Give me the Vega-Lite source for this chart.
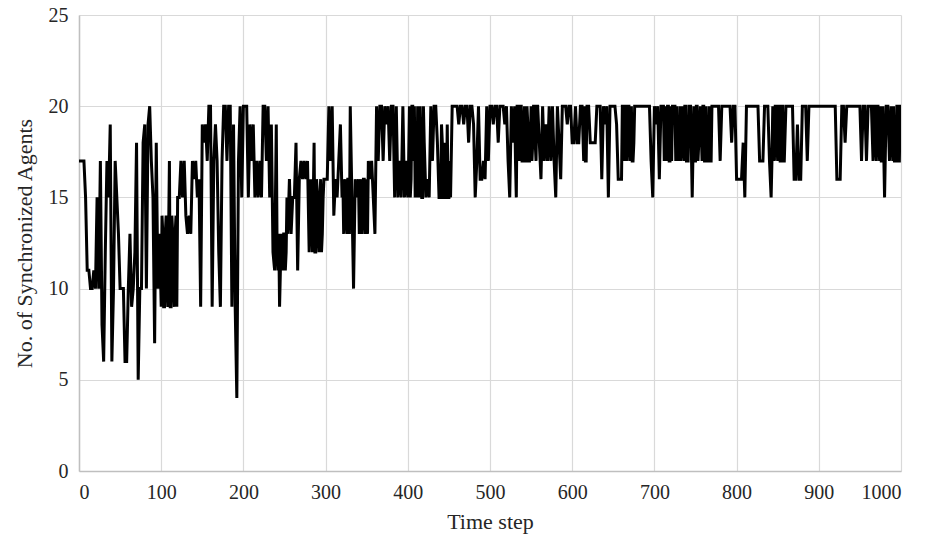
{
"$schema": "https://vega.github.io/schema/vega-lite/v6.json",
"width": 822, "height": 456,
"autosize": {"type": "none"},
"padding": {"left": 79, "top": 15, "right": 26, "bottom": 75},
"background": "white",
"config": {"view": {"stroke": null}, "font": "Liberation Serif"},
"data": {"values": [
{"t":0,"v":17},{"t":2,"v":17},{"t":4,"v":17},{"t":6,"v":17},{"t":8,"v":15},{"t":10,"v":11},{"t":12,"v":11},{"t":14,"v":10},{"t":16,"v":10},{"t":18,"v":11},
{"t":20,"v":10},{"t":22,"v":15},{"t":24,"v":10},{"t":26,"v":17},{"t":28,"v":8},{"t":30,"v":6},{"t":32,"v":12},{"t":34,"v":17},{"t":36,"v":15},{"t":38,"v":19},
{"t":40,"v":6},{"t":42,"v":10},{"t":44,"v":17},{"t":46,"v":15},{"t":48,"v":13},{"t":50,"v":10},{"t":52,"v":10},{"t":54,"v":10},{"t":56,"v":6},{"t":58,"v":6},
{"t":60,"v":10},{"t":62,"v":13},{"t":64,"v":9},{"t":66,"v":10},{"t":68,"v":12},{"t":70,"v":18},{"t":72,"v":5},{"t":74,"v":10},{"t":76,"v":10},{"t":78,"v":18},
{"t":80,"v":19},{"t":82,"v":10},{"t":84,"v":19},{"t":86,"v":20},{"t":88,"v":17},{"t":90,"v":15},{"t":92,"v":7},{"t":94,"v":18},{"t":96,"v":10},{"t":98,"v":13},
{"t":100,"v":9},{"t":102,"v":13},{"t":104,"v":9},{"t":106,"v":14},{"t":108,"v":9},{"t":110,"v":17},{"t":112,"v":9},{"t":114,"v":13},{"t":116,"v":9},{"t":118,"v":14},
{"t":120,"v":15},{"t":122,"v":15},{"t":124,"v":17},{"t":126,"v":15},{"t":128,"v":17},{"t":130,"v":14},{"t":132,"v":13},{"t":134,"v":14},{"t":136,"v":13},{"t":138,"v":17},
{"t":140,"v":16},{"t":142,"v":17},{"t":144,"v":15},{"t":146,"v":16},{"t":148,"v":9},{"t":150,"v":19},{"t":152,"v":18},{"t":154,"v":19},{"t":156,"v":17},{"t":158,"v":20},
{"t":160,"v":20},{"t":162,"v":9},{"t":164,"v":17},{"t":166,"v":19},{"t":168,"v":17},{"t":170,"v":12},{"t":172,"v":9},{"t":174,"v":17},{"t":176,"v":20},{"t":178,"v":20},
{"t":180,"v":17},{"t":182,"v":20},{"t":184,"v":20},{"t":186,"v":9},{"t":188,"v":19},{"t":190,"v":9},{"t":192,"v":4},{"t":194,"v":17},{"t":196,"v":20},{"t":198,"v":15},
{"t":200,"v":20},{"t":202,"v":20},{"t":204,"v":20},{"t":206,"v":15},{"t":208,"v":19},{"t":210,"v":17},{"t":212,"v":19},{"t":214,"v":15},{"t":216,"v":17},{"t":218,"v":15},
{"t":220,"v":17},{"t":222,"v":15},{"t":224,"v":20},{"t":226,"v":20},{"t":228,"v":17},{"t":230,"v":20},{"t":232,"v":15},{"t":234,"v":19},{"t":236,"v":12},{"t":238,"v":11},
{"t":240,"v":19},{"t":242,"v":11},{"t":244,"v":9},{"t":246,"v":13},{"t":248,"v":11},{"t":250,"v":13},{"t":252,"v":12},{"t":254,"v":13},{"t":256,"v":16},{"t":258,"v":13},
{"t":260,"v":15},{"t":262,"v":15},{"t":264,"v":18},{"t":266,"v":11},{"t":268,"v":16},{"t":270,"v":17},{"t":272,"v":16},{"t":274,"v":17},{"t":276,"v":16},{"t":278,"v":17},
{"t":280,"v":12},{"t":282,"v":16},{"t":284,"v":12},{"t":286,"v":18},{"t":288,"v":12},{"t":290,"v":15},{"t":292,"v":12},{"t":294,"v":16},{"t":296,"v":13},{"t":298,"v":16},
{"t":300,"v":16},{"t":302,"v":16},{"t":304,"v":20},{"t":306,"v":17},{"t":308,"v":20},{"t":310,"v":14},{"t":312,"v":16},{"t":314,"v":15},{"t":316,"v":17},{"t":318,"v":19},
{"t":320,"v":15},{"t":322,"v":13},{"t":324,"v":16},{"t":326,"v":13},{"t":328,"v":16},{"t":330,"v":20},{"t":332,"v":15},{"t":334,"v":10},{"t":336,"v":16},{"t":338,"v":15},
{"t":340,"v":16},{"t":342,"v":15},{"t":344,"v":13},{"t":346,"v":16},{"t":348,"v":13},{"t":350,"v":15},{"t":352,"v":17},{"t":354,"v":16},{"t":356,"v":17},{"t":358,"v":15},
{"t":360,"v":13},{"t":362,"v":20},{"t":364,"v":17},{"t":366,"v":20},{"t":368,"v":20},{"t":370,"v":17},{"t":372,"v":20},{"t":374,"v":19},{"t":376,"v":20},{"t":378,"v":17},
{"t":380,"v":20},{"t":382,"v":20},{"t":384,"v":15},{"t":386,"v":20},{"t":388,"v":15},{"t":390,"v":17},{"t":392,"v":15},{"t":394,"v":20},{"t":396,"v":15},{"t":398,"v":17},
{"t":400,"v":15},{"t":402,"v":20},{"t":404,"v":16},{"t":406,"v":20},{"t":408,"v":20},{"t":410,"v":17},{"t":412,"v":20},{"t":414,"v":15},{"t":416,"v":17},{"t":418,"v":15},
{"t":420,"v":18},{"t":422,"v":15},{"t":424,"v":16},{"t":426,"v":15},{"t":428,"v":20},{"t":430,"v":17},{"t":432,"v":20},{"t":434,"v":20},{"t":436,"v":18},{"t":438,"v":15},
{"t":440,"v":15},{"t":442,"v":18},{"t":444,"v":15},{"t":446,"v":15},{"t":448,"v":19},{"t":450,"v":15},{"t":452,"v":15},{"t":454,"v":20},{"t":456,"v":20},{"t":458,"v":20},
{"t":460,"v":20},{"t":462,"v":19},{"t":464,"v":20},{"t":466,"v":20},{"t":468,"v":19},{"t":470,"v":20},{"t":472,"v":20},{"t":474,"v":18},{"t":476,"v":20},{"t":478,"v":20},
{"t":480,"v":19},{"t":482,"v":15},{"t":484,"v":17},{"t":486,"v":20},{"t":488,"v":16},{"t":490,"v":16},{"t":492,"v":17},{"t":494,"v":16},{"t":496,"v":20},{"t":498,"v":17},
{"t":500,"v":20},{"t":502,"v":20},{"t":504,"v":19},{"t":506,"v":20},{"t":508,"v":20},{"t":510,"v":18},{"t":512,"v":20},{"t":514,"v":20},{"t":516,"v":20},{"t":518,"v":19},
{"t":520,"v":20},{"t":522,"v":17},{"t":524,"v":15},{"t":526,"v":20},{"t":528,"v":18},{"t":530,"v":20},{"t":532,"v":15},{"t":534,"v":20},{"t":536,"v":17},{"t":538,"v":20},
{"t":540,"v":17},{"t":542,"v":20},{"t":544,"v":17},{"t":546,"v":19},{"t":548,"v":17},{"t":550,"v":20},{"t":552,"v":18},{"t":554,"v":20},{"t":556,"v":17},{"t":558,"v":20},
{"t":560,"v":18},{"t":562,"v":16},{"t":564,"v":20},{"t":566,"v":17},{"t":568,"v":19},{"t":570,"v":17},{"t":572,"v":20},{"t":574,"v":17},{"t":576,"v":20},{"t":578,"v":17},
{"t":580,"v":15},{"t":582,"v":20},{"t":584,"v":18},{"t":586,"v":16},{"t":588,"v":20},{"t":590,"v":20},{"t":592,"v":20},{"t":594,"v":19},{"t":596,"v":20},{"t":598,"v":20},
{"t":600,"v":18},{"t":602,"v":18},{"t":604,"v":20},{"t":606,"v":18},{"t":608,"v":18},{"t":610,"v":20},{"t":612,"v":20},{"t":614,"v":17},{"t":616,"v":17},{"t":618,"v":20},
{"t":620,"v":20},{"t":622,"v":18},{"t":624,"v":18},{"t":626,"v":18},{"t":628,"v":18},{"t":630,"v":20},{"t":632,"v":20},{"t":634,"v":20},{"t":636,"v":16},{"t":638,"v":20},
{"t":640,"v":19},{"t":642,"v":20},{"t":644,"v":15},{"t":646,"v":20},{"t":648,"v":20},{"t":650,"v":20},{"t":652,"v":20},{"t":654,"v":19},{"t":656,"v":16},{"t":658,"v":16},
{"t":660,"v":16},{"t":662,"v":20},{"t":664,"v":20},{"t":666,"v":17},{"t":668,"v":20},{"t":670,"v":17},{"t":672,"v":20},{"t":674,"v":17},{"t":676,"v":20},{"t":678,"v":20},
{"t":680,"v":20},{"t":682,"v":20},{"t":684,"v":20},{"t":686,"v":20},{"t":688,"v":20},{"t":690,"v":20},{"t":692,"v":20},{"t":694,"v":20},{"t":696,"v":17},{"t":698,"v":15},
{"t":700,"v":20},{"t":702,"v":19},{"t":704,"v":20},{"t":706,"v":16},{"t":708,"v":20},{"t":710,"v":20},{"t":712,"v":17},{"t":714,"v":20},{"t":716,"v":20},{"t":718,"v":17},
{"t":720,"v":20},{"t":722,"v":20},{"t":724,"v":20},{"t":726,"v":17},{"t":728,"v":17},{"t":730,"v":17},{"t":732,"v":17},{"t":734,"v":20},{"t":736,"v":17},{"t":738,"v":20},
{"t":740,"v":17},{"t":742,"v":20},{"t":744,"v":20},{"t":746,"v":15},{"t":748,"v":20},{"t":750,"v":17},{"t":752,"v":20},{"t":754,"v":18},{"t":756,"v":20},{"t":758,"v":17},
{"t":760,"v":20},{"t":762,"v":17},{"t":764,"v":17},{"t":766,"v":17},{"t":768,"v":17},{"t":770,"v":20},{"t":772,"v":20},{"t":774,"v":20},{"t":776,"v":20},{"t":778,"v":20},
{"t":780,"v":17},{"t":782,"v":20},{"t":784,"v":20},{"t":786,"v":20},{"t":788,"v":20},{"t":790,"v":20},{"t":792,"v":20},{"t":794,"v":18},{"t":796,"v":20},{"t":798,"v":20},
{"t":800,"v":16},{"t":802,"v":16},{"t":804,"v":16},{"t":806,"v":16},{"t":808,"v":18},{"t":810,"v":15},{"t":812,"v":20},{"t":814,"v":20},{"t":816,"v":20},{"t":818,"v":20},
{"t":820,"v":20},{"t":822,"v":20},{"t":824,"v":20},{"t":826,"v":20},{"t":828,"v":17},{"t":830,"v":17},{"t":832,"v":17},{"t":834,"v":20},{"t":836,"v":20},{"t":838,"v":20},
{"t":840,"v":17},{"t":842,"v":15},{"t":844,"v":20},{"t":846,"v":17},{"t":848,"v":20},{"t":850,"v":17},{"t":852,"v":20},{"t":854,"v":17},{"t":856,"v":20},{"t":858,"v":17},
{"t":860,"v":20},{"t":862,"v":20},{"t":864,"v":20},{"t":866,"v":20},{"t":868,"v":20},{"t":870,"v":16},{"t":872,"v":16},{"t":874,"v":19},{"t":876,"v":16},{"t":878,"v":16},
{"t":880,"v":20},{"t":882,"v":20},{"t":884,"v":20},{"t":886,"v":17},{"t":888,"v":20},{"t":890,"v":20},{"t":892,"v":20},{"t":894,"v":20},{"t":896,"v":20},{"t":898,"v":20},
{"t":900,"v":20},{"t":902,"v":20},{"t":904,"v":20},{"t":906,"v":20},{"t":908,"v":20},{"t":910,"v":20},{"t":912,"v":20},{"t":914,"v":20},{"t":916,"v":20},{"t":918,"v":20},
{"t":920,"v":20},{"t":922,"v":16},{"t":924,"v":16},{"t":926,"v":16},{"t":928,"v":20},{"t":930,"v":20},{"t":932,"v":18},{"t":934,"v":20},{"t":936,"v":20},{"t":938,"v":20},
{"t":940,"v":20},{"t":942,"v":20},{"t":944,"v":20},{"t":946,"v":20},{"t":948,"v":20},{"t":950,"v":20},{"t":952,"v":17},{"t":954,"v":20},{"t":956,"v":20},{"t":958,"v":17},
{"t":960,"v":20},{"t":962,"v":20},{"t":964,"v":20},{"t":966,"v":17},{"t":968,"v":20},{"t":970,"v":17},{"t":972,"v":20},{"t":974,"v":17},{"t":976,"v":17},{"t":978,"v":20},
{"t":980,"v":15},{"t":982,"v":20},{"t":984,"v":20},{"t":986,"v":17},{"t":988,"v":20},{"t":990,"v":17},{"t":992,"v":17},{"t":994,"v":17},{"t":996,"v":20},{"t":998,"v":17},
{"t":1000,"v":20},
{"t":101,"v":14},{"t":103,"v":9},{"t":105,"v":13},{"t":107,"v":10},{"t":109,"v":13},{"t":111,"v":9},{"t":113,"v":14},{"t":115,"v":10},{"t":117,"v":13},{"t":119,"v":9},
{"t":241,"v":12},{"t":243,"v":13},{"t":245,"v":11},{"t":247,"v":12},{"t":249,"v":13},{"t":251,"v":11},{"t":253,"v":15},
{"t":285,"v":15},{"t":287,"v":12},{"t":289,"v":16},{"t":291,"v":13},{"t":293,"v":15},{"t":295,"v":12},{"t":297,"v":15},
{"t":321,"v":16},{"t":323,"v":15},{"t":325,"v":14},{"t":327,"v":16},{"t":329,"v":13},{"t":341,"v":13},{"t":343,"v":16},{"t":345,"v":14},{"t":347,"v":16},{"t":349,"v":16},{"t":351,"v":13},
{"t":401,"v":17},{"t":403,"v":15},{"t":405,"v":20},{"t":407,"v":17},{"t":409,"v":15},{"t":411,"v":15},{"t":413,"v":18},{"t":415,"v":20},{"t":417,"v":15},{"t":419,"v":20},
{"t":441,"v":19},{"t":443,"v":15},{"t":445,"v":18},{"t":447,"v":15},{"t":449,"v":15},{"t":451,"v":17},
{"t":531,"v":17},{"t":533,"v":20},{"t":535,"v":18},{"t":537,"v":20},{"t":539,"v":17},{"t":541,"v":19},{"t":543,"v":17},{"t":545,"v":20},{"t":547,"v":17},{"t":549,"v":18},{"t":551,"v":17},{"t":553,"v":20},{"t":555,"v":18},{"t":557,"v":20},
{"t":615,"v":20},{"t":617,"v":17},{"t":661,"v":20},{"t":663,"v":17},{"t":665,"v":20},{"t":667,"v":18},{"t":669,"v":20},{"t":671,"v":19},{"t":673,"v":17},{"t":675,"v":18},
{"t":711,"v":20},{"t":713,"v":18},{"t":715,"v":17},{"t":717,"v":20},{"t":719,"v":17},{"t":721,"v":17},{"t":725,"v":20},{"t":727,"v":20},{"t":729,"v":18},{"t":731,"v":20},{"t":733,"v":18},{"t":737,"v":20},{"t":739,"v":17},{"t":741,"v":17},
{"t":749,"v":17},{"t":751,"v":20},{"t":753,"v":17},{"t":759,"v":20},{"t":761,"v":17},{"t":763,"v":20},{"t":765,"v":17},{"t":767,"v":20},{"t":769,"v":17},
{"t":843,"v":17},{"t":845,"v":18},{"t":847,"v":20},{"t":849,"v":18},{"t":851,"v":20},{"t":853,"v":17},{"t":855,"v":20},{"t":857,"v":17},
{"t":967,"v":20},{"t":969,"v":18},{"t":971,"v":20},{"t":973,"v":18},{"t":975,"v":20},{"t":977,"v":17},{"t":991,"v":20},{"t":993,"v":17},{"t":995,"v":20},{"t":997,"v":17},{"t":999,"v":20}
]},
"mark": {"type": "line", "color": "#000000", "strokeWidth": 3, "strokeJoin": "miter", "clip": true},
"encoding": {
  "x": {"field": "t", "type": "quantitative", "title": "Time step",
        "scale": {"domain": [0, 1000], "nice": false, "zero": false},
        "axis": {"values": [0,100,200,300,400,500,600,700,800,900,1000], "format": "d",
                 "grid": true, "gridColor": "#d9d9d9", "gridWidth": 1.2,
                 "domainColor": "#bfbfbf", "domainWidth": 1.5, "ticks": false,
                 "labelFont": "Liberation Serif", "labelFontSize": 20, "labelColor": "#262626", "labelPadding": 11,
                 "titleFont": "Liberation Serif", "titleFontSize": 22, "titleFontWeight": "normal", "titleColor": "#262626", "titlePadding": 9}},
  "y": {"field": "v", "type": "quantitative", "title": "No. of Synchronized Agents",
        "scale": {"domain": [0, 25], "nice": false},
        "axis": {"values": [0,5,10,15,20,25],
                 "grid": true, "gridColor": "#d9d9d9", "gridWidth": 1.2,
                 "domainColor": "#bfbfbf", "domainWidth": 1.5, "ticks": false,
                 "labelFont": "Liberation Serif", "labelFontSize": 20, "labelColor": "#262626", "labelPadding": 11,
                 "titleFont": "Liberation Serif", "titleFontSize": 22, "titleFontWeight": "normal", "titleColor": "#262626", "titlePadding": 12}}
}
}
